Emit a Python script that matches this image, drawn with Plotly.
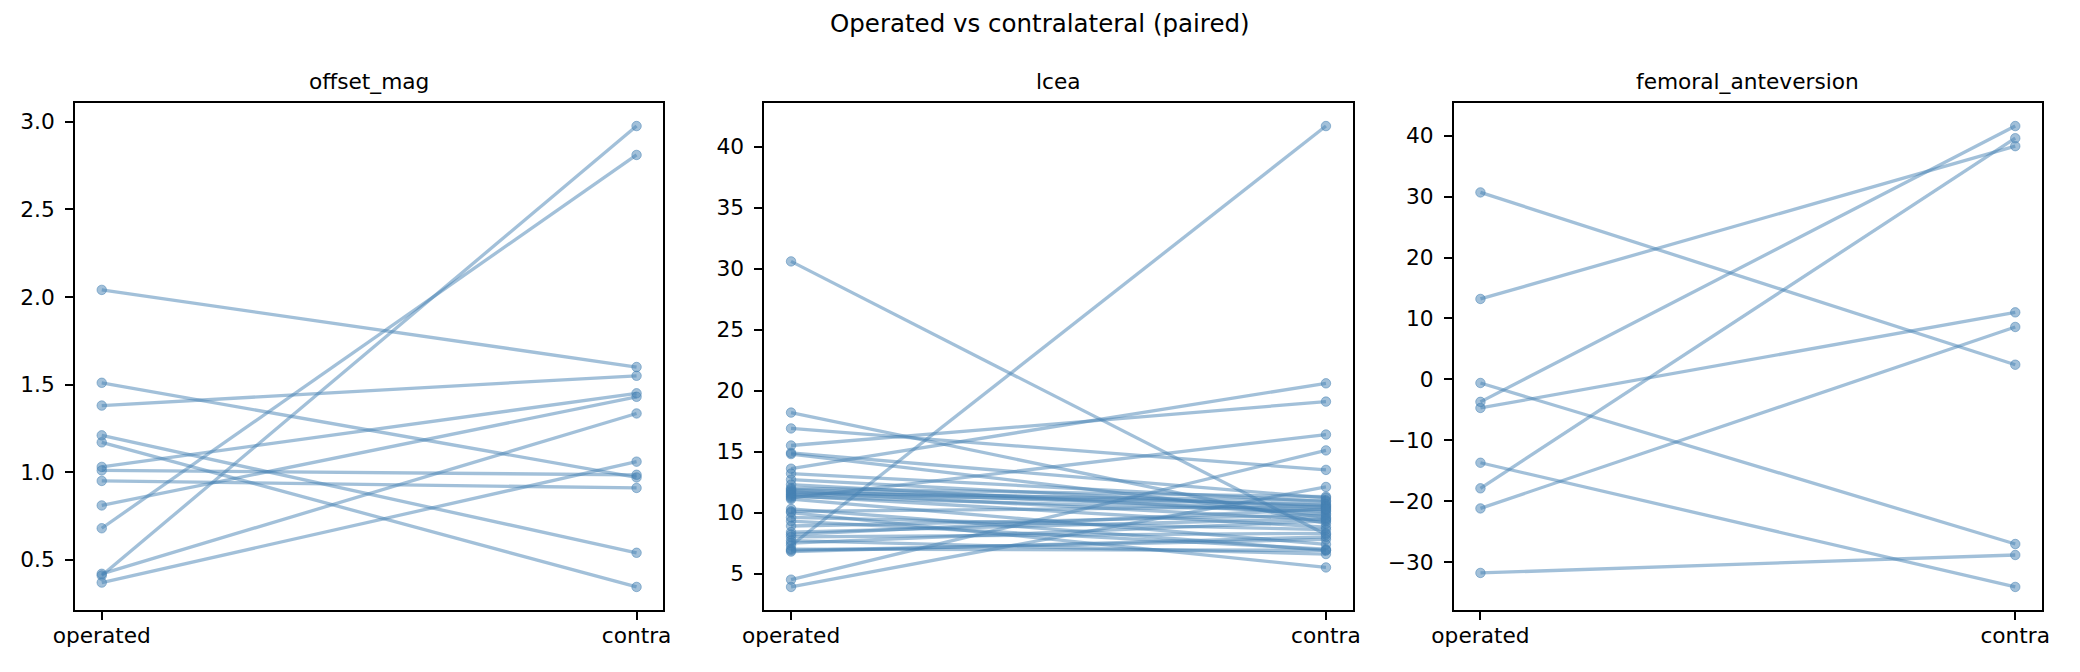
import plotly.graph_objects as go
from plotly.subplots import make_subplots

sides = ["operated", "contra"]
metrics = ["offset_mag", "lcea", "femoral_anteversion"]

# offset_mag, one entry per patient
offset_operated = [2.04, 1.51, 1.38, 1.21, 1.17, 1.03, 1.01, 0.95, 0.81, 0.68, 0.42, 0.41, 0.37]
offset_contra = [1.60, 0.97, 1.55, 0.54, 0.345, 1.45, 0.985, 0.91, 1.43, 2.81, 1.335, 2.975, 1.06]

# lcea
lcea_operated = [30.6, 18.2, 16.9, 15.5, 14.9, 14.8, 13.6, 13.2, 12.7, 12.3,
                 12.0, 11.9, 11.8, 11.7, 11.6, 11.5, 11.4, 11.3, 11.2, 11.1,
                 10.3, 10.1, 10.0, 9.6, 9.3, 8.9, 8.4, 8.2, 8.0, 7.7,
                 7.5, 7.3, 7.0, 6.9, 6.8, 4.5, 3.9]
lcea_contra = [8.2, 9.1, 13.5, 19.1, 11.2, 9.6, 20.6, 10.9, 10.4, 9.9,
               11.3, 10.6, 10.2, 9.4, 11.0, 10.7, 8.8, 10.1, 16.4, 7.4,
               6.9, 10.5, 5.5, 8.6, 7.0, 9.8, 9.5, 10.3, 8.3, 6.6,
               9.3, 41.7, 6.9, 7.8, 8.0, 15.1, 12.1]

# femoral_anteversion
fa_operated = [30.7, 13.2, -0.6, -3.7, -4.7, -13.7, -17.9, -21.2, -31.8]
fa_contra = [2.4, 38.3, -27.05, 41.6, 11.0, -34.1, 39.6, 8.6, -28.85]

panels = [(offset_operated, offset_contra, 0.5, ".1f"),
          (lcea_operated, lcea_contra, 5, "d"),
          (fa_operated, fa_contra, 10, "d")]

LINE = "rgba(70,130,180,0.5)"
FONT = "DejaVu Sans"

W, H = 2080, 672
# the page body adds an 8px margin, so pull everything back by that much
OFF = 8
x_doms = [(75 - OFF, 663.3 - OFF), (764.3 - OFF, 1352.7 - OFF), (1453.7 - OFF, 2042 - OFF)]
y_top, y_bot = 103 - OFF, 610 - OFF

fig = make_subplots(rows=1, cols=3, subplot_titles=metrics)

for col, (op, co, step, fmt) in enumerate(panels, start=1):
    for a, b in zip(op, co):
        fig.add_trace(go.Scatter(
            x=sides, y=[a, b], mode="lines+markers",
            line=dict(color=LINE, width=3.3),
            marker=dict(size=9.5, color=LINE, line=dict(width=1, color=LINE)),
            hoverinfo="y", showlegend=False), row=1, col=col)

    lo = min(op + co)
    hi = max(op + co)
    pad = (hi - lo) * 0.05
    x0, x1 = x_doms[col - 1]
    fig.update_xaxes(domain=[x0 / W, x1 / W], type="category",
                     range=[-0.05, 1.05], row=1, col=col)
    fig.update_yaxes(domain=[(H - y_bot) / H, (H - y_top) / H],
                     range=[lo - pad, hi + pad], dtick=step, tick0=0,
                     tickformat=fmt, row=1, col=col)

fig.update_xaxes(showgrid=False, zeroline=False, showline=True, mirror=True,
                 linecolor="black", linewidth=1.7, ticks="outside", ticklen=8,
                 tickwidth=1.7, tickcolor="black", ticklabelstandoff=-3,
                 automargin=False,
                 tickfont=dict(family=FONT, size=21.7, color="black"))
fig.update_yaxes(showgrid=False, zeroline=False, showline=True, mirror=True,
                 linecolor="black", linewidth=1.7, ticks="outside", ticklen=8,
                 tickwidth=1.7, tickcolor="black", ticklabelstandoff=6,
                 automargin=False,
                 tickfont=dict(family=FONT, size=21.7, color="black"))

# subplot titles sit just above each box
for i, ann in enumerate(fig.layout.annotations):
    x0, x1 = x_doms[i]
    ann.update(x=(x0 + x1) / 2 / W, y=(H - y_top) / H, yanchor="bottom",
               yshift=7, font=dict(family=FONT, size=21.7, color="black"))

fig.add_annotation(text="Operated vs contralateral (paired)", xref="paper",
                   yref="paper", x=(1040 - OFF) / W, y=(H - 23 + OFF) / H,
                   xanchor="center", yanchor="middle", showarrow=False,
                   font=dict(family=FONT, size=24.5, color="black"))

fig.update_layout(width=W, height=H, margin=dict(l=0, r=0, t=0, b=0),
                  plot_bgcolor="white", paper_bgcolor="white",
                  font=dict(family=FONT, color="black"), showlegend=False)

fig.write_html("out.html")
